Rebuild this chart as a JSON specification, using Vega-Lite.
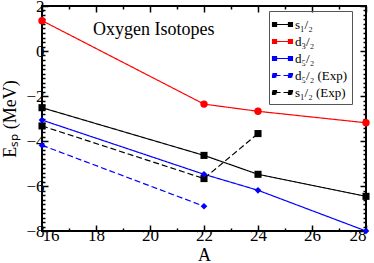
{
  "$schema": "https://vega.github.io/schema/vega-lite/v6.json",
  "width": 324,
  "height": 225,
  "autosize": {"type": "none"},
  "padding": {"left": 42, "top": 6, "right": 8, "bottom": 32},
  "config": {
    "font": "Liberation Serif",
    "view": {"stroke": "black", "strokeWidth": 2},
    "axis": {"grid": false, "domain": false, "tickColor": "black", "tickWidth": 1.5, "labelColor": "black", "titleColor": "black", "labelFont": "Liberation Serif", "titleFont": "Liberation Serif", "titleFontWeight": "normal"}
  },
  "data": {"values": [
    {"series": "s₁/₂", "A": 16, "E": -2.52},
    {"series": "s₁/₂", "A": 22, "E": -4.64},
    {"series": "s₁/₂", "A": 24, "E": -5.48},
    {"series": "s₁/₂", "A": 28, "E": -6.46},
    {"series": "d₃/₂", "A": 16, "E": 1.35},
    {"series": "d₃/₂", "A": 22, "E": -2.36},
    {"series": "d₃/₂", "A": 24, "E": -2.68},
    {"series": "d₃/₂", "A": 28, "E": -3.19},
    {"series": "d₅/₂", "A": 16, "E": -3.07},
    {"series": "d₅/₂", "A": 22, "E": -5.48},
    {"series": "d₅/₂", "A": 24, "E": -6.19},
    {"series": "d₅/₂", "A": 28, "E": -8.0},
    {"series": "d₅/₂ (Exp)", "A": 16, "E": -4.19},
    {"series": "d₅/₂ (Exp)", "A": 22, "E": -6.9},
    {"series": "s₁/₂ (Exp)", "A": 16, "E": -3.33},
    {"series": "s₁/₂ (Exp)", "A": 22, "E": -5.67},
    {"series": "s₁/₂ (Exp)", "A": 24, "E": -3.67}
  ]},
  "resolve": {"axis": {"x": "independent", "y": "independent"}},
  "layer": [
    {
      "mark": {"type": "line", "strokeWidth": 1.2, "clip": true},
      "encoding": {
        "x": {"field": "A", "type": "quantitative", "scale": {"domain": [16, 28], "nice": false, "zero": false},
              "axis": {"orient": "bottom", "values": [16, 18, 20, 22, 24, 26, 28], "tickSize": -6, "labelFontSize": 17, "labelPadding": 2, "title": "A", "titleFontSize": 18, "titlePadding": 3}},
        "y": {"field": "E", "type": "quantitative", "scale": {"domain": [-8, 2], "nice": false, "zero": false},
              "axis": {"orient": "left", "values": [-8, -6, -4, -2, 0, 2], "tickSize": -6, "labelFontSize": 17, "labelPadding": 4, "title": "Eₛₚ  (MeV)", "titleFontSize": 18, "titlePadding": 6}},
        "color": {"field": "series", "type": "nominal",
                  "scale": {"domain": ["s₁/₂", "d₃/₂", "d₅/₂", "d₅/₂ (Exp)", "s₁/₂ (Exp)"], "range": ["#000000", "#ff0000", "#0000ff", "#0000ff", "#000000"]},
                  "legend": {"title": null, "orient": "none", "legendX": 227, "legendY": 5, "direction": "vertical",
                             "strokeColor": "#555555", "padding": 4, "symbolSize": 300, "labelFontSize": 13, "labelColor": "black", "labelOffset": 3, "rowPadding": 0,
                             "symbolType": "M-0.92,0L0.92,0 M-1.15,-0.23L-0.69,-0.23L-0.69,0.23L-1.15,0.23Z M0.69,-0.23L1.15,-0.23L1.15,0.23L0.69,0.23Z",
                             "encoding": {"symbols": {
                               "fill": {"scale": "color", "field": "value"},
                               "stroke": {"scale": "color", "field": "value"},
                               "strokeWidth": {"value": 1.2},
                               "opacity": {"value": 1}
                             }}}},
        "strokeDash": {"field": "series", "type": "nominal",
                       "scale": {"domain": ["s₁/₂", "d₃/₂", "d₅/₂", "d₅/₂ (Exp)", "s₁/₂ (Exp)"], "range": [[1, 0], [1, 0], [1, 0], [6, 3], [6, 3]]},
                       "legend": null}
      }
    },
    {
      "transform": [{"filter": {"field": "series", "oneOf": ["s₁/₂", "s₁/₂ (Exp)"]}}],
      "mark": {"type": "point", "shape": "square", "filled": true, "size": 50, "opacity": 1},
      "encoding": {
        "x": {"field": "A", "type": "quantitative", "axis": {"orient": "bottom", "values": [17, 19, 21, 23, 25, 27], "tickSize": -3, "labels": false, "title": null}},
        "y": {"field": "E", "type": "quantitative", "axis": {"orient": "left", "values": [-7.8, -7.6, -7.4, -7.2, -7, -6.8, -6.6, -6.4, -6.2, -5.8, -5.6, -5.4, -5.2, -5, -4.8, -4.6, -4.4, -4.2, -3.8, -3.6, -3.4, -3.2, -3, -2.8, -2.6, -2.4, -2.2, -1.8, -1.6, -1.4, -1.2, -1, -0.8, -0.6, -0.4, -0.2, 0.2, 0.4, 0.6, 0.8, 1, 1.2, 1.4, 1.6, 1.8], "tickSize": -3, "labels": false, "title": null}},
        "color": {"field": "series", "type": "nominal", "legend": null}
      }
    },
    {
      "transform": [{"filter": {"field": "series", "oneOf": ["d₃/₂"]}}],
      "mark": {"type": "point", "shape": "circle", "filled": true, "size": 55, "opacity": 1},
      "encoding": {
        "x": {"field": "A", "type": "quantitative", "axis": {"orient": "top", "values": [16, 18, 20, 22, 24, 26, 28], "tickSize": -6, "labels": false, "title": null}},
        "y": {"field": "E", "type": "quantitative", "axis": {"orient": "right", "values": [-8, -6, -4, -2, 0, 2], "tickSize": -6, "labels": false, "title": null}},
        "color": {"field": "series", "type": "nominal", "legend": null}
      }
    },
    {
      "transform": [{"filter": {"field": "series", "oneOf": ["d₅/₂", "d₅/₂ (Exp)"]}}],
      "mark": {"type": "point", "shape": "diamond", "filled": true, "size": 45, "opacity": 1},
      "encoding": {
        "x": {"field": "A", "type": "quantitative", "axis": {"orient": "top", "values": [17, 19, 21, 23, 25, 27], "tickSize": -3, "labels": false, "title": null}},
        "y": {"field": "E", "type": "quantitative", "axis": {"orient": "right", "values": [-7.8, -7.6, -7.4, -7.2, -7, -6.8, -6.6, -6.4, -6.2, -5.8, -5.6, -5.4, -5.2, -5, -4.8, -4.6, -4.4, -4.2, -3.8, -3.6, -3.4, -3.2, -3, -2.8, -2.6, -2.4, -2.2, -1.8, -1.6, -1.4, -1.2, -1, -0.8, -0.6, -0.4, -0.2, 0.2, 0.4, 0.6, 0.8, 1, 1.2, 1.4, 1.6, 1.8], "tickSize": -3, "labels": false, "title": null}},
        "color": {"field": "series", "type": "nominal", "legend": null}
      }
    },
    {
      "data": {"values": [{"label": "Oxygen Isotopes", "A": 17.89, "E": 0.71}]},
      "mark": {"type": "text", "align": "left", "baseline": "alphabetic", "fontSize": 18, "font": "Liberation Serif", "color": "black"},
      "encoding": {
        "x": {"field": "A", "type": "quantitative", "axis": null},
        "y": {"field": "E", "type": "quantitative", "axis": null},
        "text": {"field": "label"}
      }
    }
  ]
}
